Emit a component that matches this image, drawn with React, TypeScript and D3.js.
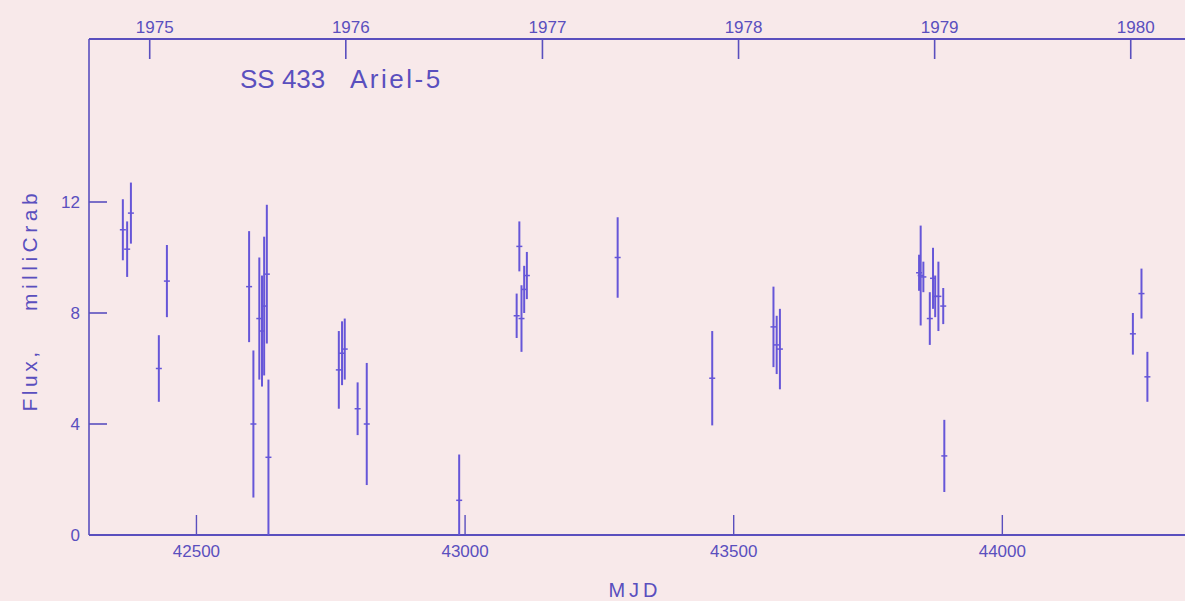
import React from "react";
import * as d3 from "d3";

const mjd = [42363, 42371, 42378, 42430, 42445, 42598, 42606, 42617, 42622, 42626, 42631, 42634, 42765, 42771, 42776, 42800, 42817, 42989, 43096, 43101, 43105, 43110, 43115, 43284, 43460, 43574, 43580, 43586, 43845, 43848, 43853, 43865, 43871, 43875, 43881, 43890, 43892, 44243, 44259, 44270];
const flux = [11.0, 10.3, 11.6, 6.0, 9.15, 8.95, 4.0, 7.8, 7.35, 8.25, 9.4, 2.8, 5.95, 6.55, 6.7, 4.55, 4.0, 1.25, 7.9, 10.4, 7.8, 8.85, 9.35, 10.0, 5.65, 7.5, 6.85, 6.7, 9.45, 9.35, 9.3, 7.8, 9.25, 8.6, 8.6, 8.25, 2.85, 7.25, 8.7, 5.7];
const fluxErr = [1.1, 1.0, 1.1, 1.2, 1.3, 2.0, 2.65, 2.2, 2.0, 2.5, 2.5, 2.8, 1.4, 1.15, 1.1, 0.95, 2.2, 1.65, 0.8, 0.9, 1.2, 0.85, 0.85, 1.45, 1.7, 1.45, 1.05, 1.45, 0.65, 1.8, 0.55, 0.95, 1.1, 0.75, 1.25, 0.65, 1.3, 0.75, 0.9, 0.9];

const mjdTicks = [42500, 43000, 43500, 44000];
const fluxTicks = [0, 4, 8, 12];
const yearLabels = ["1975", "1976", "1977", "1978", "1979", "1980"];
const yearMjd = [42413, 42778, 43144, 43509, 43874, 44239];

const INK = "#5a4fbe";
const BAR = "#6656d8";
const FONT = "'Liberation Sans', Arial, sans-serif";

export default function App() {
  const x = d3.scaleLinear().domain([42300, 44340]).range([89, 1185]);
  const y = d3.scaleLinear().domain([0, 12]).range([535, 202]);
  const yTop = 39;
  const yBottom = y(0);
  const xLeft = x(42300);
  const xRight = 1185;

  return (
    <svg
      width={1185}
      height={601}
      style={{ position: "absolute", left: 0, top: 0, display: "block" }}
    >
      <rect x={0} y={0} width={1185} height={601} fill="#f8e9ea" />

      {/* frame */}
      <line x1={xLeft} x2={xRight} y1={yTop} y2={yTop} stroke={INK} strokeWidth={2} />
      <line x1={xLeft} x2={xRight} y1={yBottom} y2={yBottom} stroke={INK} strokeWidth={2.2} />
      <line x1={xLeft} x2={xLeft} y1={yTop} y2={yBottom} stroke={INK} strokeWidth={1.6} />

      {/* top year ticks */}
      {yearMjd.map((m, i) => (
        <g key={"yr" + i}>
          <line x1={x(m)} x2={x(m)} y1={yTop} y2={yTop + 20} stroke={INK} strokeWidth={1.6} />
          <text
            x={x(m) + 5}
            y={33}
            textAnchor="middle"
            fontFamily={FONT}
            fontSize={17}
            fill={INK}
          >
            {yearLabels[i]}
          </text>
        </g>
      ))}

      {/* bottom MJD ticks */}
      {mjdTicks.map((m) => (
        <g key={"mt" + m}>
          <line x1={x(m)} x2={x(m)} y1={yBottom} y2={yBottom - 20} stroke={INK} strokeWidth={1.4} />
          <text
            x={x(m)}
            y={557}
            textAnchor="middle"
            fontFamily={FONT}
            fontSize={17}
            fill={INK}
          >
            {m}
          </text>
        </g>
      ))}

      {/* left flux ticks */}
      {fluxTicks.map((f) => (
        <g key={"ft" + f}>
          {f > 0 && (
            <line x1={xLeft} x2={xLeft + 18} y1={y(f)} y2={y(f)} stroke={INK} strokeWidth={1.6} />
          )}
          <text
            x={80}
            y={y(f) + 6}
            textAnchor="end"
            fontFamily={FONT}
            fontSize={17}
            fill={INK}
          >
            {f}
          </text>
        </g>
      ))}

      {/* title */}
      <text x={240} y={88} fontFamily={FONT} fontSize={26} fill={INK}>
        SS 433
      </text>
      <text x={350} y={88} fontFamily={FONT} fontSize={26} letterSpacing={2.5} fill={INK}>
        Ariel-5
      </text>

      {/* axis labels */}
      <text
        x={635}
        y={597}
        textAnchor="middle"
        fontFamily={FONT}
        fontSize={20}
        letterSpacing={4}
        fill={INK}
      >
        MJD
      </text>
      <text
        transform={`translate(37, 380) rotate(-90)`}
        textAnchor="middle"
        fontFamily={FONT}
        fontSize={21}
        letterSpacing={3.5}
        fill={INK}
      >
        Flux,
      </text>
      <text
        transform={`translate(37, 250) rotate(-90)`}
        textAnchor="middle"
        fontFamily={FONT}
        fontSize={21}
        letterSpacing={4.5}
        fill={INK}
      >
        milliCrab
      </text>

      {/* data error bars */}
      {mjd.map((m, i) => {
        const cx = x(m);
        const lo = Math.max(0, flux[i] - fluxErr[i]);
        const hi = flux[i] + fluxErr[i];
        return (
          <g key={"d" + i}>
            <line x1={cx} x2={cx} y1={y(hi)} y2={y(lo)} stroke={BAR} strokeWidth={2} />
            <line x1={cx - 3} x2={cx + 3} y1={y(flux[i])} y2={y(flux[i])} stroke={BAR} strokeWidth={1.5} />
          </g>
        );
      })}
    </svg>
  );
}
